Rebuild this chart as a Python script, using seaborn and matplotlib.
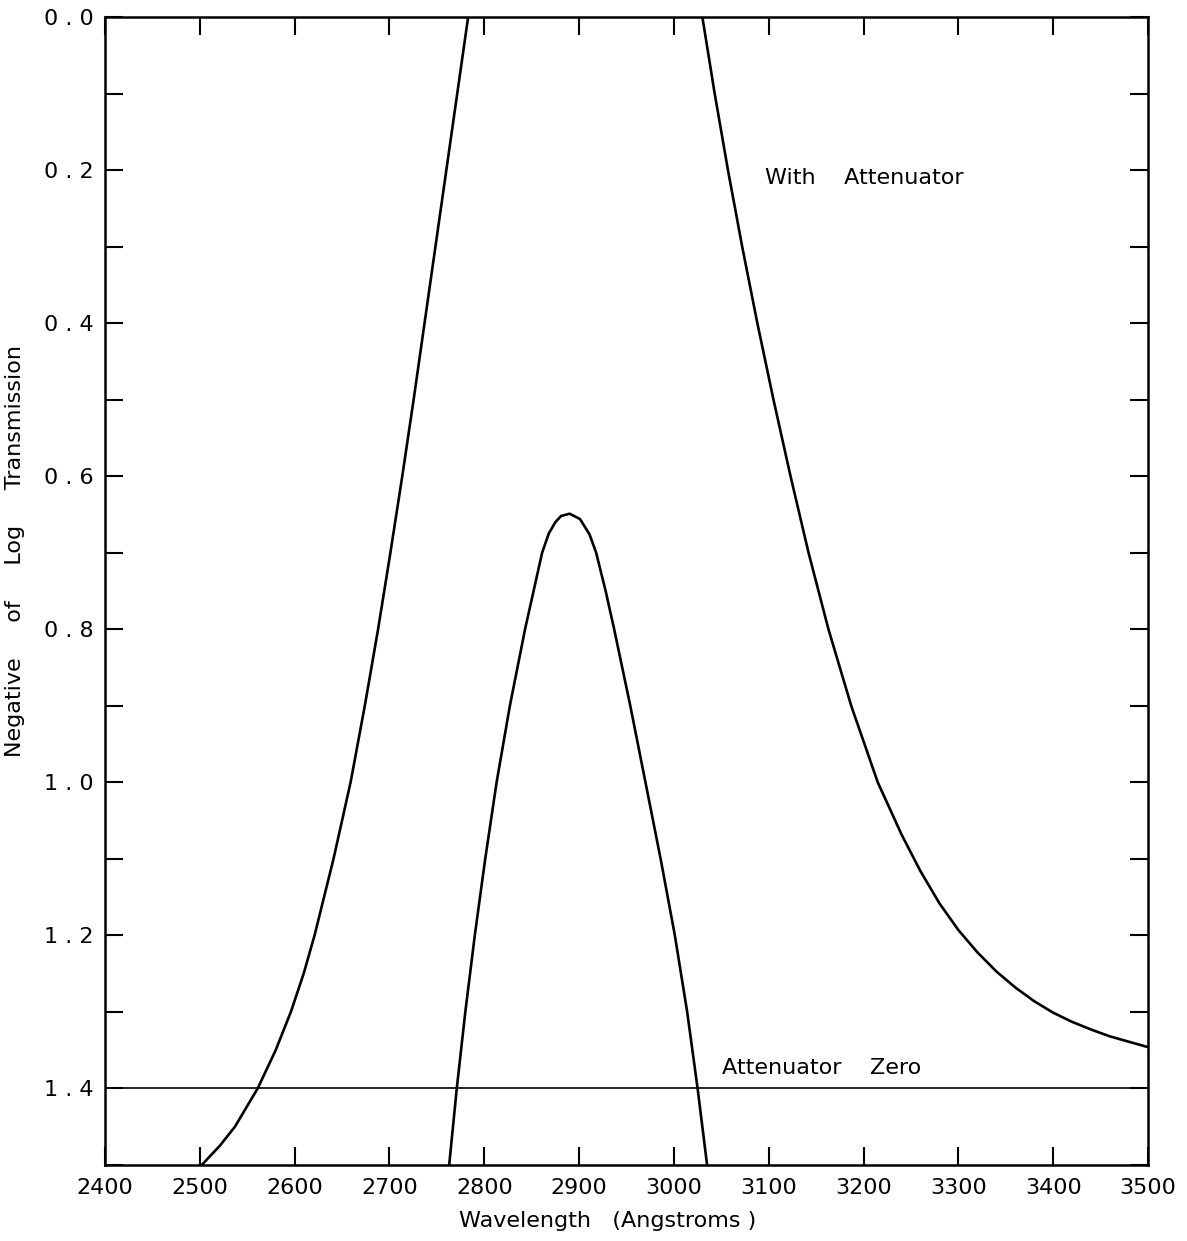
import matplotlib
matplotlib.use("Agg")
import matplotlib.pyplot as plt
import seaborn as sns
import pandas as pd
from matplotlib.ticker import MultipleLocator, FixedLocator

# ---- data ----
outer_left_wl = [2502, 2521, 2537, 2561, 2580, 2596, 2609.5, 2621, 2641, 2659, 2674,
                 2688, 2701, 2713.5, 2725.5, 2737, 2748.5, 2760, 2771.5, 2783]
outer_left_val = [1.5, 1.475, 1.45, 1.4, 1.35, 1.3, 1.25, 1.2, 1.1, 1.0, 0.9,
                  0.8, 0.7, 0.6, 0.5, 0.4, 0.3, 0.2, 0.1, 0.0]

outer_right_wl = [3030, 3043, 3057, 3072, 3088, 3105, 3123, 3142, 3163, 3187,
                  3215, 3240, 3260, 3280, 3300, 3320, 3340, 3360, 3380, 3400,
                  3420, 3440, 3460, 3480, 3500]
outer_right_val = [0.0, 0.1, 0.2, 0.3, 0.4, 0.5, 0.6, 0.7, 0.8, 0.9,
                   1.0, 1.068, 1.116, 1.158, 1.193, 1.222, 1.247, 1.268, 1.286, 1.301,
                   1.313, 1.323, 1.332, 1.339, 1.346]

inner_wl = [2763, 2771, 2780, 2790, 2801, 2813, 2827, 2843, 2852, 2861, 2868,
            2875, 2881, 2890, 2901, 2911, 2918, 2928, 2937, 2954, 2970, 2986,
            3001, 3014, 3025, 3035]
inner_val = [1.5, 1.4, 1.3, 1.2, 1.1, 1.0, 0.9, 0.8, 0.75, 0.7, 0.675,
             0.66, 0.652, 0.649, 0.656, 0.676, 0.70, 0.75, 0.8, 0.9, 1.0, 1.1,
             1.2, 1.3, 1.4, 1.5]

zero_wl = [2400, 3500]
zero_val = [1.4, 1.4]

x_ticks = [2400, 2500, 2600, 2700, 2800, 2900, 3000, 3100, 3200, 3300, 3400, 3500]
y_ticks = [0.0, 0.2, 0.4, 0.6, 0.8, 1.0, 1.2, 1.4]
y_tick_labels = ["0 . 0", "0 . 2", "0 . 4", "0 . 6", "0 . 8", "1 . 0", "1 . 2", "1 . 4"]

# ---- plot ----
sns.set_theme(style="ticks")
plt.rcParams['font.family'] = ['DejaVu Sans']
plt.rcParams['text.color'] = 'black'
plt.rcParams['axes.labelcolor'] = 'black'

fig = plt.figure(figsize=(11.87, 12.41), dpi=100)
ax = fig.add_axes([105 / 1187, 1 - 1165 / 1241, (1148 - 105) / 1187, (1165 - 17) / 1241])

def draw(xs, ys, lw):
    df = pd.DataFrame({"wl": xs, "val": ys})
    sns.lineplot(data=df, x="wl", y="val", ax=ax, sort=False, estimator=None,
                 color="black", linewidth=lw)

draw(outer_left_wl, outer_left_val, 1.9)
draw(outer_right_wl, outer_right_val, 1.9)
draw(inner_wl, inner_val, 1.9)
draw(zero_wl, zero_val, 1.2)

ax.set_xlim(2400, 3500)
ax.set_ylim(1.5, 0.0)

ax.xaxis.set_major_locator(FixedLocator(x_ticks))
ax.set_xticklabels([str(t) for t in x_ticks])
ax.yaxis.set_major_locator(FixedLocator(y_ticks))
ax.set_yticklabels(y_tick_labels)
ax.yaxis.set_minor_locator(MultipleLocator(0.1))

ax.tick_params(axis="both", which="both", direction="in", length=13, width=1.5,
               top=True, right=True, colors="black", labelsize=16)
ax.tick_params(axis="x", pad=9)
ax.tick_params(axis="y", pad=8)
for s in ax.spines.values():
    s.set_linewidth(1.8)
    s.set_color("black")

ax.set_xlabel("Wavelength   (Angstroms )", fontsize=16)
ax.set_ylabel("Negative     of     Log     Transmission", fontsize=16)
ax.xaxis.set_label_coords(0.482, -0.04)
ax.yaxis.set_label_coords(-0.077, 0.535)

ax.text(3096, 0.21, "With    Attenuator", fontsize=16, va="center", ha="left")
ax.text(3051, 1.373, "Attenuator    Zero", fontsize=16, va="center", ha="left")

fig.savefig("out.png", dpi=100, facecolor="white")
